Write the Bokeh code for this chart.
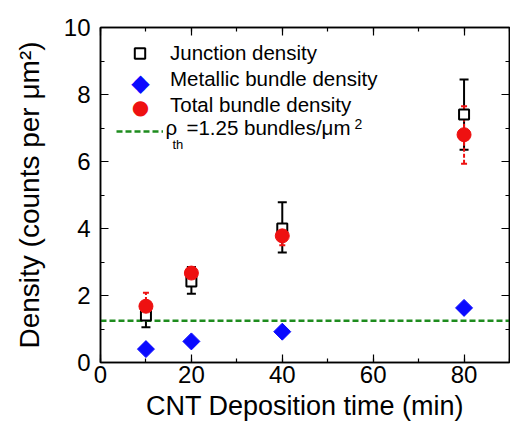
import math
from bokeh.plotting import figure
from bokeh.models import (ColumnDataSource, Whisker, TeeHead, Legend, LegendItem,
                          LinearAxis, Range1d, Label, SingleIntervalTicker,
                          CustomJSTickFormatter)
from bokeh.embed import file_html
from bokeh.resources import INLINE

# ---- data ----
time_min = [10, 20, 40, 80]
junction = [1.40, 2.42, 4.00, 7.40]
junction_lo = [1.05, 2.05, 3.28, 6.35]
junction_hi = [1.80, 2.85, 4.78, 8.45]
metallic = [0.40, 0.63, 0.92, 1.63]
total = [1.68, 2.67, 3.78, 6.80]
total_lo = [1.30, 2.50, 3.50, 5.93]
total_hi = [2.08, 2.85, 4.00, 7.65]
rho_th = 1.25
x_lim = [0, 90]
y_lim = [0, 10]

FONT = "Liberation Sans"
SYM_FONT = "DejaVu Sans"
RED = "#ee1111"
BLUE = "#0a0aff"
GREEN = "#1e8c1e"
LEG_SIZE = "20.5px"

p = figure(width=510, height=429, output_backend="svg", toolbar_location=None,
           x_range=Range1d(*x_lim), y_range=Range1d(*y_lim),
           min_border_left=100, min_border_right=1, min_border_top=27, min_border_bottom=67)
p.background_fill_color = "white"
p.border_fill_color = "white"
p.grid.visible = False
p.outline_line_color = "black"
p.outline_line_width = 1.5

xt = SingleIntervalTicker(interval=20, num_minor_ticks=2)
yt = SingleIntervalTicker(interval=2, num_minor_ticks=2)
p.xaxis.ticker = xt
p.yaxis.ticker = yt

for ax in (p.xaxis[0], p.yaxis[0]):
    ax.axis_line_color = "black"
    ax.axis_line_width = 1.5
    ax.major_tick_line_color = "black"
    ax.minor_tick_line_color = "black"
    ax.major_tick_line_width = 1.2
    ax.minor_tick_line_width = 1.2
    ax.major_tick_in = 8
    ax.major_tick_out = 0
    ax.minor_tick_in = 4
    ax.minor_tick_out = 0
    ax.major_label_text_font = FONT
    ax.major_label_text_font_size = "24px"
    ax.major_label_text_color = "black"
    ax.axis_label_text_font = FONT
    ax.axis_label_text_font_style = "normal"
    ax.axis_label_text_color = "black"

p.xaxis.axis_label = "CNT Deposition time (min)"
p.yaxis.axis_label = "Density (counts per \u03bcm\u00b2)"
p.xaxis.axis_label_text_font_size = "27px"
p.yaxis.axis_label_text_font_size = "28px"
p.xaxis.major_label_standoff = 3
p.xaxis.axis_label_standoff = 5
p.yaxis.major_label_standoff = 10
p.yaxis.axis_label_standoff = 16

blank = CustomJSTickFormatter(code="return ''")
for side, tk in (("above", xt), ("right", yt)):
    ax = LinearAxis(ticker=tk, formatter=blank, major_label_text_font_size="2px",
                    major_label_standoff=0,
                    axis_line_color="black", axis_line_width=1.5,
                    major_tick_in=8, major_tick_out=0, minor_tick_in=4, minor_tick_out=0,
                    major_tick_line_color="black", minor_tick_line_color="black",
                    major_tick_line_width=1.2, minor_tick_line_width=1.2)
    p.add_layout(ax, side)

src_j = ColumnDataSource(dict(x=time_min, y=junction, lo=junction_lo, hi=junction_hi))
src_m = ColumnDataSource(dict(x=time_min, y=metallic))
src_t = ColumnDataSource(dict(x=time_min, y=total, lo=total_lo, hi=total_hi))

# threshold line across the whole x range
r_th = p.line(x=x_lim, y=[rho_th, rho_th], line_color=GREEN, line_width=2.5, line_dash="6 3")

# junction density with error bars
p.add_layout(Whisker(source=src_j, base="x", lower="lo", upper="hi",
                     line_color="black", line_width=2,
                     lower_head=TeeHead(size=9, line_color="black", line_width=2),
                     upper_head=TeeHead(size=9, line_color="black", line_width=2)))
r_j = p.scatter("x", "y", source=src_j, marker="square", size=10,
                fill_color="white", line_color="black", line_width=2)

# total bundle density with (dashed) error bars
p.add_layout(Whisker(source=src_t, base="x", lower="lo", upper="hi",
                     line_color=RED, line_width=2, line_dash="4 2",
                     lower_head=TeeHead(size=6, line_color=RED, line_width=2),
                     upper_head=TeeHead(size=6, line_color=RED, line_width=2)))
r_t = p.scatter("x", "y", source=src_t, marker="circle", size=14,
                fill_color=RED, line_color=RED)

# metallic bundle density (diamonds)
r_m = p.scatter("x", "y", source=src_m, marker="square", angle=math.pi / 4, size=12,
                fill_color=BLUE, line_color=BLUE)

legend = Legend(items=[
    LegendItem(label="Junction density", renderers=[r_j]),
    LegendItem(label="Metallic bundle density", renderers=[]),
    LegendItem(label="Total bundle density", renderers=[]),
    LegendItem(label=" ", renderers=[r_th]),
], location=(16, 218), margin=0, padding=0, spacing=0,
   glyph_width=47, glyph_height=26, label_height=26, label_standoff=7,
   label_text_font=FONT, label_text_font_size=LEG_SIZE, label_text_color="black",
   background_fill_alpha=0, border_line_alpha=0)
p.add_layout(legend)

# legend keys drawn as symbols
sym_kw = dict(x_units="screen", y_units="screen", text_font=SYM_FONT,
              text_align="center", text_baseline="middle")
p.add_layout(Label(x=40, y=280, text="\u25c6", text_font_size="24px", text_color=BLUE, **sym_kw))
p.add_layout(Label(x=40, y=256, text="\u25cf", text_font_size="20px", text_color=RED, **sym_kw))

# threshold label with sub/superscripts
lab_kw = dict(x_units="screen", y_units="screen", text_font=FONT, text_color="black")
p.add_layout(Label(x=65, y=224, text="\u03c1", text_font_size=LEG_SIZE, **lab_kw))
p.add_layout(Label(x=72, y=211, text="th", text_font_size="13px", **lab_kw))
p.add_layout(Label(x=86, y=224, text="=1.25 bundles/\u03bcm", text_font_size=LEG_SIZE, **lab_kw))
p.add_layout(Label(x=254, y=234, text="2", text_font_size="14px", **lab_kw))

open("out.html", "w").write(file_html(p, INLINE))
